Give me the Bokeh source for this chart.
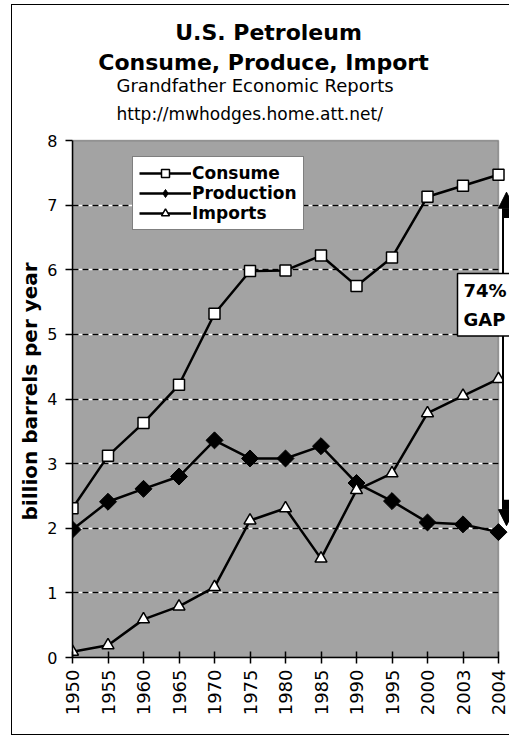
import math
from bokeh.plotting import figure
from bokeh.models import (Range1d, FixedTicker, Grid, Legend, LegendItem, Label, Title,
                          Arrow, NormalHead, ColumnDataSource, BoxAnnotation)
from bokeh.embed import file_html
from bokeh.resources import INLINE

# ---------------- data ----------------
years = ["1950", "1955", "1960", "1965", "1970", "1975", "1980", "1985",
         "1990", "1995", "2000", "2003", "2004"]
consume = [2.31, 3.12, 3.63, 4.22, 5.32, 5.98, 5.99, 6.22, 5.75, 6.19, 7.13, 7.30, 7.47]
production = [1.98, 2.41, 2.61, 2.80, 3.36, 3.08, 3.08, 3.27, 2.70, 2.42, 2.09, 2.06, 1.94]
imports = [0.09, 0.19, 0.59, 0.79, 1.09, 2.12, 2.31, 1.53, 2.59, 2.85, 3.78, 4.05, 4.31]
y_ticks = [0, 1, 2, 3, 4, 5, 6, 7, 8]
series_names = ["Consume", "Production", "Imports"]
title_lines = ["U.S. Petroleum", "Consume, Produce, Import"]
subtitle_lines = ["Grandfather Economic Reports", "http://mwhodges.home.att.net/"]
y_label = "billion barrels per year"
gap_text = "74%\nGAP"
gap_top, gap_bottom = 7.2, 2.04

# ---------------- layout (canvas pixels) ----------------
W, H = 498, 731
L, B = 60, 79            # left / bottom panels for the axes
PX_X, PX_Y = 35.5, 64.625  # pixels per category step / per unit
XMAX = len(years) - 1
YMAX = y_ticks[-1]
FW, FH = W - L, H - B
X_END = FW / PX_X
Y_END = FH / PX_Y


def dx(px):
    return (px - L) / PX_X


def dy(py):
    return Y_END - py / PX_Y


FONT = "DejaVu Sans"
GRAY = "#a3a3a3"

x = list(range(len(years)))
src = ColumnDataSource(dict(x=x, consume=consume, production=production, imports=imports))

p = figure(width=W, height=H, output_backend="svg", toolbar_location=None,
           x_range=Range1d(0, X_END), y_range=Range1d(0, Y_END),
           min_border_left=L, min_border_right=0, min_border_top=0, min_border_bottom=B)
p.styles = {"margin-left": "11px", "margin-top": "4px",
            "border-left": "1px solid black", "border-top": "1px solid black",
            "border-bottom": "1px solid black"}

p.background_fill_color = "white"
p.border_fill_color = "white"
p.outline_line_color = None

# plot area (gray panel) bounded by the axis ranges
p.add_layout(BoxAnnotation(left=0, right=XMAX, bottom=0, top=YMAX, level="image",
                           fill_color=GRAY, fill_alpha=1, line_color="black",
                           line_width=1.5))

# axes
p.xaxis.bounds = (0, XMAX)
p.xaxis.ticker = FixedTicker(ticks=x)
p.xaxis.major_label_overrides = {i: yr for i, yr in enumerate(years)}
p.xaxis.major_label_orientation = math.pi / 2
p.xaxis.major_label_text_font = FONT
p.xaxis.major_label_text_font_size = "18px"
p.xaxis.major_label_text_color = "black"
p.xaxis.major_label_standoff = 6
p.xaxis.major_tick_in = 6
p.xaxis.major_tick_out = 6
p.xaxis.minor_tick_line_color = None
p.xaxis.axis_line_width = 1.5
p.xaxis.major_tick_line_width = 1.5

p.yaxis.bounds = (0, YMAX)
p.yaxis.ticker = FixedTicker(ticks=y_ticks)
p.yaxis.major_label_text_font = FONT
p.yaxis.major_label_text_font_size = "16px"
p.yaxis.major_label_text_color = "black"
p.yaxis.major_label_standoff = 8
p.yaxis.major_tick_in = 0
p.yaxis.major_tick_out = 7
p.yaxis.minor_tick_line_color = None
p.yaxis.axis_line_width = 1.5
p.yaxis.major_tick_line_width = 1.5

# y-axis title, starting near the bottom of the plot area and reading upwards
p.add_layout(Title(text=y_label, align="left", text_font=FONT, text_font_style="bold",
                   text_font_size="20px", text_color="black", standoff=5,
                   offset=137), "left")

# grid: white underlay with black dashes on top
p.xgrid.visible = False
grid_ticks = y_ticks[1:-1]
p.ygrid.ticker = FixedTicker(ticks=grid_ticks)
p.ygrid.grid_line_color = "white"
p.ygrid.grid_line_width = 1.5
g2 = Grid(dimension=1, ticker=FixedTicker(ticks=grid_ticks),
          grid_line_color="black", grid_line_width=1.5, grid_line_dash="6 4")
p.add_layout(g2)
if "cross_bounds" in Grid.properties():
    p.ygrid.cross_bounds = (0, XMAX)
    g2.cross_bounds = (0, XMAX)
else:
    p.add_layout(BoxAnnotation(left=XMAX + 0.03, right=X_END, bottom=0.5, top=YMAX - 0.5,
                               level="underlay", fill_color="white", fill_alpha=1,
                               line_color=None))

# series
lc = p.line("x", "consume", source=src, line_color="black", line_width=2.5)
sc = p.scatter("x", "consume", source=src, marker="square", size=11,
               fill_color="white", line_color="black", line_width=1.5)
lp = p.line("x", "production", source=src, line_color="black", line_width=2.5)
sp = p.scatter("x", "production", source=src, marker="square", angle=math.pi / 4, size=12,
               fill_color="black", line_color="black")
li = p.line("x", "imports", source=src, line_color="black", line_width=2.5)
si = p.scatter("x", "imports", source=src, marker="triangle", size=12,
               fill_color="white", line_color="black", line_width=1.5)
# legend proxy for the diamond marker (legend ignores marker angle); no visible data
dp = p.scatter(x=[float("nan")], y=[float("nan")], marker="diamond", size=16,
               fill_color="black", line_color="black")

legend = Legend(items=[LegendItem(label=series_names[0], renderers=[lc, sc]),
                       LegendItem(label=series_names[1], renderers=[lp, dp]),
                       LegendItem(label=series_names[2], renderers=[li, si])],
                location=(60, 427))
legend.border_line_color = "black"
legend.border_line_width = 1.5
legend.background_fill_color = "white"
legend.background_fill_alpha = 1
legend.label_text_font = FONT
legend.label_text_font_style = "bold"
legend.label_text_font_size = "17px"
legend.label_text_color = "black"
legend.glyph_width = 52
legend.glyph_height = 20
legend.label_height = 20
legend.spacing = 0
legend.padding = 6
legend.label_standoff = 1
legend.margin = 0
p.add_layout(legend)

# titles
p.add_layout(Label(x=dx(256), y=dy(27), text=title_lines[0], text_align="center",
                   text_baseline="middle", text_font=FONT, text_font_style="bold",
                   text_font_size="22px", text_color="black"))
p.add_layout(Label(x=dx(251), y=dy(57), text=title_lines[1], text_align="center",
                   text_baseline="middle", text_font=FONT, text_font_style="bold",
                   text_font_size="22px", text_color="black"))
p.add_layout(Label(x=dx(104), y=dy(80), text=subtitle_lines[0], text_align="left",
                   text_baseline="middle", text_font=FONT, text_font_size="18px",
                   text_color="black"))
p.add_layout(Label(x=dx(104), y=dy(108), text=subtitle_lines[1], text_align="left",
                   text_baseline="middle", text_font=FONT, text_font_size="17px",
                   text_color="black"))

# gap arrow (block arrow: black outline, white shaft)
xa = dx(494)
p.add_layout(Arrow(x_start=xa, y_start=gap_bottom, x_end=xa, y_end=gap_top,
                   line_color="black", line_width=9,
                   start=NormalHead(size=16, fill_color="black", line_color="black"),
                   end=NormalHead(size=16, fill_color="black", line_color="black")))
p.add_layout(Arrow(x_start=xa, y_start=gap_bottom + 0.4, x_end=xa, y_end=gap_top - 0.4,
                   line_color="white", line_width=5, end=None))

p.add_layout(Label(x=dx(445), y=dy(268), text=gap_text, text_align="left",
                   text_baseline="top", text_font=FONT, text_font_style="bold",
                   text_font_size="18px", text_color="black", text_line_height=1.4,
                   background_fill_color="white", border_line_color="black",
                   border_line_width=1.5, padding=6))

open("out.html", "w").write(file_html(p, INLINE))
